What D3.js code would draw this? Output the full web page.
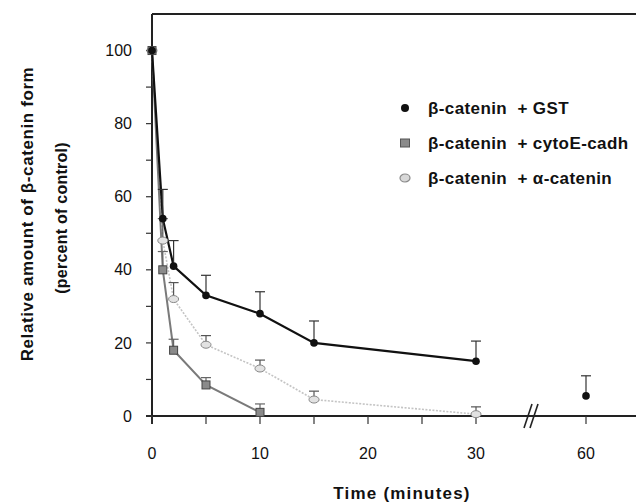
<!DOCTYPE html>
<html lang="en">
<head>
    <meta charset="UTF-8">
    <title>beta-catenin degradation</title>
    <script src="https://d3js.org/d3.v7.min.js"></script>
    <style>
        body { margin: 0; background: #fff; font-family: "Liberation Sans", Arial, sans-serif; }
        .tick-label { font-size: 16px; fill: #111; }
        .title { font-weight: bold; fill: #111; }
        .legend text { font-size: 17px; font-weight: bold; fill: #111; white-space: pre; letter-spacing: 0.4px; }
    </style>
</head>
<body>
<script>
// data
const gstTimes = [0, 1, 2, 5, 10, 15, 30, 60];
const gstValues = [100, 54, 41, 33, 28, 20, 15, 5.5];
const gstErrors = [0, 8, 7, 5.5, 6, 6, 5.5, 5.5];

const cadTimes = [0, 1, 2, 5, 10];
const cadValues = [100, 40, 18, 8.5, 1];
const cadErrors = [0, 5, 3, 2, 2.3];

const alphaTimes = [0, 1, 2, 5, 10, 15, 30];
const alphaValues = [100, 48, 32, 19.5, 13, 4.5, 0.5];
const alphaErrors = [0, 6, 4.5, 2.5, 2.3, 2.3, 2];

const xTicks = [0, 5, 10, 15, 20, 25, 30, 60];
const xLabels = [0, 10, 20, 30, 60];
const yTicks = [0, 10, 20, 30, 40, 50, 60, 70, 80, 90, 100];
const yLabels = [0, 20, 40, 60, 80, 100];

const legendNames = ["β-catenin  + GST", "β-catenin  + cytoE-cadh", "β-catenin  + α-catenin"];

const width = 636, height = 504;
const svg = d3.select("body").append("svg")
    .attr("width", width).attr("height", height);

// broken time axis: 0-30 linear, then compressed to 60
const x = d3.scaleLinear().domain([0, 30, 60, 70]).range([152, 476, 586, 640]);
const y = d3.scaleLinear().domain([0, 110]).range([416, 14]);

const series = [
    {times: gstTimes, values: gstValues, errors: gstErrors},
    {times: cadTimes, values: cadValues, errors: cadErrors},
    {times: alphaTimes, values: alphaValues, errors: alphaErrors}
].map(s => s.times.map((t, i) => ({t: t, v: s.values[i], e: s.errors[i]})));

// frame
svg.append("line").attr("x1", x(0)).attr("x2", width).attr("y1", y(110)).attr("y2", y(110))
    .attr("stroke", "#222").attr("stroke-width", 2);
svg.append("line").attr("x1", x(0)).attr("x2", x(0)).attr("y1", y(110)).attr("y2", y(0) + 8)
    .attr("stroke", "#222").attr("stroke-width", 2);
svg.append("line").attr("x1", x(0) - 6).attr("x2", width).attr("y1", y(0)).attr("y2", y(0))
    .attr("stroke", "#222").attr("stroke-width", 2);

// y ticks
svg.selectAll(".ytick").data(yTicks).enter().append("line")
    .attr("x1", x(0) - 6).attr("x2", x(0))
    .attr("y1", d => y(d)).attr("y2", d => y(d))
    .attr("stroke", "#333").attr("stroke-width", 1.2);
svg.selectAll(".ylab").data(yLabels).enter().append("text")
    .attr("class", "tick-label")
    .attr("x", 132).attr("y", d => y(d)).attr("dy", "0.35em")
    .attr("text-anchor", "end").text(d => d);

// x ticks
svg.selectAll(".xtick").data(xTicks).enter().append("line")
    .attr("x1", d => x(d)).attr("x2", d => x(d))
    .attr("y1", y(0)).attr("y2", y(0) + 8)
    .attr("stroke", "#333").attr("stroke-width", 1.2);
svg.selectAll(".xlab").data(xLabels).enter().append("text")
    .attr("class", "tick-label")
    .attr("x", d => x(d)).attr("y", 453).attr("dy", "0.35em")
    .attr("text-anchor", "middle").text(d => d);

// axis break marks
const bx = x(45);
[-3, 3].forEach(off => {
    svg.append("line")
        .attr("x1", bx + off - 4).attr("x2", bx + off + 4)
        .attr("y1", y(0) + 12).attr("y2", y(0) - 12)
        .attr("stroke", "#222").attr("stroke-width", 1.6);
});

// lines
const line = d3.line().defined(d => d.t <= 30).x(d => x(d.t)).y(d => y(d.v));
svg.append("path").datum(series[2]).attr("d", line)
    .attr("fill", "none").attr("stroke", "#c4c4c4").attr("stroke-width", 1.6)
    .attr("stroke-dasharray", "2,1.5");
svg.append("path").datum(series[1]).attr("d", line)
    .attr("fill", "none").attr("stroke", "#7a7a7a").attr("stroke-width", 2);
svg.append("path").datum(series[0]).attr("d", line)
    .attr("fill", "none").attr("stroke", "#111").attr("stroke-width", 2.2);

// error bars (upper only)
const errColors = ["#333", "#666", "#555"];
series.forEach((s, k) => {
    const g = svg.append("g");
    const pts = s.filter(d => d.e > 0);
    g.selectAll(".stem").data(pts).enter().append("line")
        .attr("x1", d => x(d.t)).attr("x2", d => x(d.t))
        .attr("y1", d => y(d.v)).attr("y2", d => y(d.v + d.e))
        .attr("stroke", errColors[k]).attr("stroke-width", 1.2);
    g.selectAll(".cap").data(pts).enter().append("line")
        .attr("x1", d => x(d.t) - 5).attr("x2", d => x(d.t) + 5)
        .attr("y1", d => y(d.v + d.e)).attr("y2", d => y(d.v + d.e))
        .attr("stroke", errColors[k]).attr("stroke-width", 1.2);
});

// markers
svg.selectAll(".oval").data(series[2]).enter().append("ellipse")
    .attr("cx", d => x(d.t)).attr("cy", d => y(d.v))
    .attr("rx", 5).attr("ry", 3.5)
    .attr("fill", "#e2e2e2").attr("stroke", "#888").attr("stroke-width", 1);
svg.selectAll(".sq").data(series[1]).enter().append("rect")
    .attr("x", d => x(d.t) - 4).attr("y", d => y(d.v) - 4)
    .attr("width", 8).attr("height", 8)
    .attr("fill", "#8a8a8a").attr("stroke", "#444").attr("stroke-width", 1);
svg.selectAll(".dot").data(series[0]).enter().append("circle")
    .attr("cx", d => x(d.t)).attr("cy", d => y(d.v)).attr("r", 3.8)
    .attr("fill", "#111");

// legend
const legend = svg.append("g").attr("class", "legend");
legendNames.forEach((name, i) => {
    const ly = 108 + i * 35;
    const g = legend.append("g").attr("transform", `translate(405,${ly})`);
    if (i === 0) g.append("circle").attr("r", 4).attr("fill", "#111");
    if (i === 1) g.append("rect").attr("x", -4.5).attr("y", -4).attr("width", 9).attr("height", 8)
        .attr("fill", "#8a8a8a").attr("stroke", "#555");
    if (i === 2) g.append("ellipse").attr("rx", 5).attr("ry", 4)
        .attr("fill", "#d8d8d8").attr("stroke", "#888").attr("stroke-width", 1.2);
    g.append("text").attr("x", 23).attr("dy", "0.36em").text(name);
});

// axis titles
svg.append("text").attr("class", "title")
    .attr("transform", "translate(33,214) rotate(-90)")
    .attr("text-anchor", "middle").style("font-size", "17px").style("letter-spacing", "0.6px")
    .text("Relative amount of β-catenin form");
svg.append("text").attr("class", "title")
    .attr("transform", "translate(67,218) rotate(-90)")
    .attr("text-anchor", "middle").style("font-size", "16px").style("letter-spacing", "0.25px")
    .text("(percent of control)");
svg.append("text").attr("class", "title")
    .attr("x", 402).attr("y", 493).attr("dy", "0.35em")
    .attr("text-anchor", "middle").style("font-size", "17px").style("letter-spacing", "1.2px")
    .text("Time (minutes)");
</script>
</body>
</html>
